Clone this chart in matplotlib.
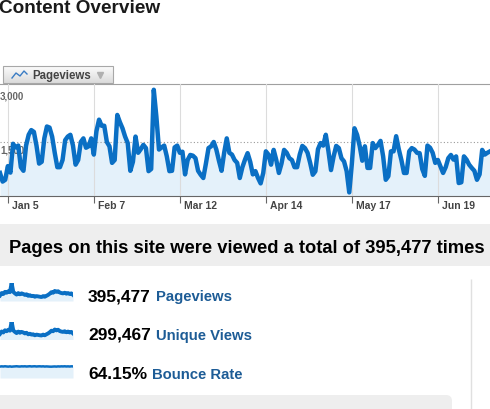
import numpy as np
import pandas as pd
import matplotlib
matplotlib.use('Agg')
import matplotlib.pyplot as plt
from matplotlib import transforms
from matplotlib.patches import Rectangle, FancyBboxPatch
from matplotlib.colors import LinearSegmentedColormap

plt.rcParams['font.family'] = ['Liberation Sans', 'DejaVu Sans']

# daily pageviews, from 2 Jan
pageviews = [
    640, 400, 450, 830, 650, 1450, 1350, 1400, 800, 700,
    1400, 1700, 1830, 1780, 1400, 900, 950, 1600, 1930, 1900,
    1650, 1200, 800, 800, 1000, 1550, 1650, 1700, 1400, 870,
    1000, 1500, 1600, 1340, 1380, 1600, 1150, 1800, 2120, 1950,
    1950, 1500, 1380, 920, 1000, 2250, 2050, 1880, 1650, 1470,
    700, 950, 1650, 1200, 1300, 1420, 1330, 690, 750, 2950,
    2200, 1290, 1350, 1400, 1100, 690, 700, 1350, 1400, 1200,
    1230, 600, 1000, 1140, 1120, 1050, 700, 590, 500, 900,
    1330, 1380, 1500, 1290, 980, 700, 1200, 1600, 1200, 1150,
    1000, 920, 500, 800, 1010, 1190, 950, 600, 690, 500,
    350, 640, 1240, 1150, 870, 1280, 1000, 640, 900, 1280,
    1200, 1050, 1000, 800, 800, 1150, 1390, 1330, 1200, 920,
    590, 686, 1300, 1470, 1400, 1700, 1250, 720, 1100, 1390,
    1330, 1050, 960, 690, 100, 900, 1880, 1700, 1390, 980,
    1380, 780, 780, 1470, 1330, 1420, 1530, 1100, 450, 550,
    1240, 1240, 1660, 1300, 1000, 640, 640, 1240, 1330, 1290,
    1200, 1190, 750, 560, 1400, 1340, 1200, 920, 1000, 820,
    640, 800, 1050, 1140, 1010, 1100, 360, 380, 1100, 1010,
    870, 780, 700, 450, 600, 1280, 1150, 1200, 1240,
]
days = pd.date_range('2009-01-02', periods=len(pageviews), freq='D')

tick_dates = pd.to_datetime(['2009-01-05', '2009-02-07', '2009-03-12',
                             '2009-04-14', '2009-05-17', '2009-06-19'])
tick_labels = ['Jan 5', 'Feb 7', 'Mar 12', 'Apr 14', 'May 17', 'Jun 19']
y_marks = [1500, 3000]
y_mark_labels = ['1,500', '3,000']

# sparklines (whole year, coarse)
pv_spark = [900, 1300, 1150, 1500, 1350, 1600, 1450, 2950, 1500, 1250, 1050,
            1300, 1100, 1250, 1150, 1000, 1100, 850, 950, 800, 850, 700, 800,
            750, 700, 650, 800, 700, 850, 1000, 1200, 1450, 1350, 1650, 1500,
            1600, 1400, 1300, 1250, 1350, 1200, 1300, 1150, 1250, 1000]
uv_spark = [700, 1000, 880, 1150, 1030, 1220, 1100, 2250, 1140, 950, 800,
            990, 840, 950, 880, 760, 840, 650, 720, 610, 650, 530, 610,
            570, 530, 500, 610, 530, 650, 760, 910, 1100, 1030, 1250, 1140,
            1220, 1060, 990, 950, 1030, 910, 990, 880, 950, 760]
bounce_spark = [63.5, 64.8, 63.9, 65.2, 64.1, 63.2, 64.6, 62.8, 63.9, 64.5,
                65.3, 64.2, 63.7, 64.9, 64.4, 65.1, 63.8, 64.6, 65.4, 64.0,
                64.8, 65.2, 63.9, 64.7, 65.0, 64.1, 64.9, 63.6, 64.4, 63.8,
                63.1, 62.9, 63.7, 64.2, 63.3, 64.6, 63.9, 64.8, 64.3, 65.1,
                64.0, 64.7, 63.8, 64.9, 64.4]

metric_values = ['395,477', '299,467', '64.15%']
metric_names = ['Pageviews', 'Unique Views', 'Bounce Rate']
total_text = 'Pages on this site were viewed a total of 395,477 times'

BLUE = '#0a6fc4'
FILL = '#e4f1fa'
W, H = 490, 410

fig = plt.figure(figsize=(W / 100, H / 100), dpi=100)


def box(x0, y0, x1, y1):
    # pixel box (top-left origin) -> figure fraction rect
    return [x0 / W, 1 - y1 / H, (x1 - x0) / W, (y1 - y0) / H]


# page layer for the non-chart bits, in pixel units
page = fig.add_axes([0, 0, 1, 1])
page.patch.set_visible(False)
page.axis('off')

page.text(-1, 13.3, 'Content Overview', fontsize=13.7, fontweight='bold',
          color='#1a1a1a', va='baseline')

# tab above chart
tab_cmap = LinearSegmentedColormap.from_list('tab', ['#fbfbfb', '#dcdcdc'])
page.imshow(np.linspace(0, 1, 20).reshape(-1, 1), extent=(3, 113, 84, 67),
            cmap=tab_cmap, aspect='auto')
page.add_patch(Rectangle((3, 67), 110, 17, fill=False, ec='#a8a8a8', lw=0.8))
page.plot([12, 16, 20, 24, 27], [79, 74, 77, 72, 75], color='#3a7cc4', lw=1)
page.plot([100], [76], marker='v', color='#b0b0b0', ms=4.5)
page.text(32, 76, 'Pageviews', fontsize=8.3, fontweight='bold', color='#444444',
          va='center')

# total band
page.add_patch(Rectangle((0, 225), W, 42, color='#eeeeee', lw=0))
page.text(247, 253, total_text, ha='center', va='baseline', fontsize=13.2,
          fontweight='bold', color='black')

page.vlines(471, 280, H, color='#e0e0e0', lw=1)
page.add_patch(FancyBboxPatch((-10, 396), 462, 30,
                              boxstyle='round,pad=0,rounding_size=6',
                              color='#eeeeee', lw=0))

baselines = [301.5, 340, 378.7]
for val, name, base in zip(metric_values, metric_names, baselines):
    t = page.text(88, base, val, fontsize=12.5, fontweight='bold',
                  color='black', va='baseline')
    page.annotate(name, xy=(1, 0), xycoords=t, xytext=(5, 0),
                  textcoords='offset pixels', va='bottom', fontsize=10.7,
                  fontweight='bold', color='#1d5c96')

page.set_xlim(0, W)
page.set_ylim(H, 0)

# main chart
ax = fig.add_axes(box(0, 85, W, 197))
ax.fill_between(days, pageviews, color=FILL, lw=0, zorder=1)
ax.plot(days, pageviews, color=BLUE, lw=3.2, solid_joinstyle='round', zorder=3)
ax.axhline(1500, color='#9a9a9a', ls=(0, (1, 2)), lw=0.8, zorder=2)
ax.set_xlim(days[0], days[-1])
ax.set_ylim(0, 3110)
ax.set_yticks([])
ax.set_xticks(tick_dates)
ax.set_xticklabels(tick_labels, ha='left', fontsize=7.5, fontweight='bold',
                   color='#444444')
ax.set_axisbelow(False)
ax.grid(axis='x', color='#dcdcdc', lw=0.8)
ax.tick_params(axis='x', length=5, width=0.8, color='#666666', pad=-2)
for s in ['left', 'right']:
    ax.spines[s].set_visible(False)
ax.spines['top'].set_color('#a0a0a0')
ax.spines['bottom'].set_color('#666666')
offset = transforms.ScaledTranslation(3 / 72, 0, fig.dpi_scale_trans)
for lab in ax.get_xticklabels():
    lab.set_transform(lab.get_transform() + offset)

for v, lab in zip(y_marks, y_mark_labels):
    ax.annotate(lab, xy=(0, v), xycoords=ax.get_yaxis_transform(),
                xytext=(0, -3), textcoords='offset pixels', ha='left',
                va='top', fontsize=7, fontweight='bold', color='#666666',
                zorder=2.6)

# sparklines
spark_rows = [(pv_spark, 284, 302, max(pv_spark), 2.8),
              (uv_spark, 322.5, 340.5, max(uv_spark), 2.8),
              (bounce_spark, 361, 379, 100, 1.8)]
for vals, top, bottom, ymax, lw in spark_rows:
    sx = fig.add_axes(box(0, top, 73, bottom))
    xs = np.arange(len(vals))
    sx.fill_between(xs, vals, color=FILL, lw=0)
    sx.plot(xs, vals, color=BLUE, lw=lw)
    sx.set_xlim(0, len(vals) - 1)
    sx.set_ylim(0, ymax)
    sx.axis('off')

fig.savefig('out.png', dpi=100)
